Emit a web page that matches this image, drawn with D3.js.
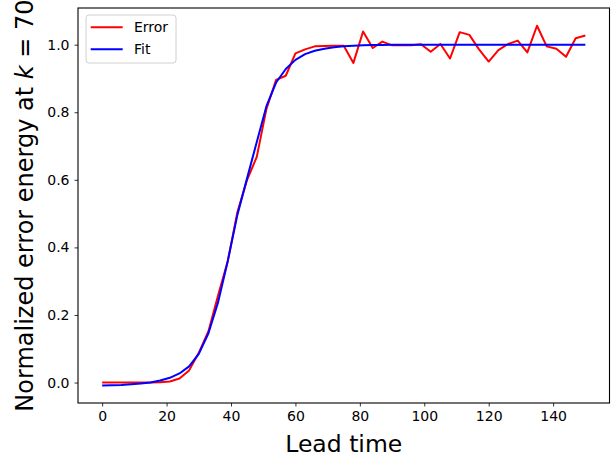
<!DOCTYPE html>
<html lang="en">
<head>
    <meta charset="UTF-8">
    <script src="https://d3js.org/d3.v7.min.js"></script>
    <style>
        body { margin: 0; background: #fff; font-family: "DejaVu Sans", sans-serif; }
        svg { display: block; }
    </style>
</head>
<body>
    <div id="chart"></div>

    <script>
        // Data
        const leadTime = [0, 3, 6, 9, 12, 15, 18, 21, 24, 27, 30, 33, 36, 39, 42, 45, 48, 51, 54, 57,
                          60, 63, 66, 69, 72, 75, 78, 81, 84, 87, 90, 93, 96, 99, 102, 105, 108, 111,
                          114, 117, 120, 123, 126, 129, 132, 135, 138, 141, 144, 147, 150];
        const errorVals = [0.000, 0.000, 0.000, 0.000, 0.000, 0.000, 0.001, 0.003, 0.012, 0.036,
                           0.088, 0.152, 0.258, 0.360, 0.505, 0.600, 0.668, 0.810, 0.896, 0.908,
                           0.974, 0.986, 0.995, 0.996, 0.997, 0.997, 0.946, 1.039, 0.990, 1.009,
                           0.998, 0.999, 0.998, 1.001, 0.979, 1.002, 0.959, 1.037, 1.029, 0.986,
                           0.950, 0.984, 1.002, 1.012, 0.977, 1.056, 0.995, 0.988, 0.964, 1.019, 1.027];
        const fitVals = [-0.009, -0.008, -0.007, -0.005, -0.003, 0.000, 0.006, 0.014, 0.027, 0.048,
                         0.085, 0.146, 0.238, 0.360, 0.497, 0.605, 0.712, 0.818, 0.888, 0.928,
                         0.955, 0.972, 0.982, 0.988, 0.992, 0.995, 0.997, 0.998, 0.999, 0.999,
                         1.000, 1.000, 1.000, 1.000, 1.000, 1.000, 1.000, 1.000, 1.000, 1.000,
                         1.000, 1.000, 1.000, 1.000, 1.000, 1.000, 1.000, 1.000, 1.000, 1.000, 1.000];
        const xTicks = [0, 20, 40, 60, 80, 100, 120, 140];
        const yTicks = [0.0, 0.2, 0.4, 0.6, 0.8, 1.0];
        const seriesNames = ["Error", "Fit"];
        const seriesColors = ["#ff0000", "#0000ff"];

        // Size
        const W = 612, H = 459;
        const margin = {top: 8, right: 2.5, bottom: 56, left: 78};
        const width = W - margin.left - margin.right,
              height = H - margin.top - margin.bottom;

        const svg = d3.select("#chart")
            .append("svg")
            .attr("width", W)
            .attr("height", H);

        const g = svg.append("g")
            .attr("transform", `translate(${margin.left},${margin.top})`);

        // Scales
        const x = d3.scaleLinear().domain([-7.5, 157.5]).range([0, width]);
        const y = d3.scaleLinear().domain([-0.0605, 1.1085]).range([height, 0]);

        // Axes
        const xAxis = g.append("g")
            .attr("transform", `translate(0,${height})`)
            .call(d3.axisBottom(x).tickValues(xTicks).tickSize(3.5).tickPadding(5).tickFormat(d3.format("d")));
        const yAxis = g.append("g")
            .call(d3.axisLeft(y).tickValues(yTicks).tickSize(3.5).tickPadding(5).tickFormat(d3.format(".1f")));

        [xAxis, yAxis].forEach(a => {
            a.select(".domain").remove();
            a.selectAll(".tick line").attr("stroke", "#000").attr("stroke-width", 0.8);
            a.selectAll(".tick text")
                .attr("fill", "#000")
                .style("font-family", "DejaVu Sans")
                .style("font-size", "14px");
        });

        // Lines
        const series = [errorVals, fitVals];
        const line = d3.line()
            .x((d, i) => x(leadTime[i]))
            .y(d => y(d));

        series.forEach((vals, k) => {
            g.append("path")
                .datum(vals)
                .attr("fill", "none")
                .attr("stroke", seriesColors[k])
                .attr("stroke-width", 2)
                .attr("stroke-linejoin", "round")
                .attr("d", line);
        });

        // Frame
        g.append("rect")
            .attr("width", width)
            .attr("height", height)
            .attr("fill", "none")
            .attr("stroke", "#000")
            .attr("stroke-width", 1.1);

        // Legend
        const legend = g.append("g").attr("transform", "translate(8,7)");
        legend.append("rect")
            .attr("width", 90)
            .attr("height", 48)
            .attr("rx", 3)
            .attr("fill", "#fff")
            .attr("fill-opacity", 0.8)
            .attr("stroke", "#d0d0d0")
            .attr("stroke-width", 1);
        seriesNames.forEach((name, k) => {
            const yy = 12.3 + k * 22;
            legend.append("line")
                .attr("x1", 4.7).attr("x2", 36.7)
                .attr("y1", yy).attr("y2", yy)
                .attr("stroke", seriesColors[k])
                .attr("stroke-width", 2);
            legend.append("text")
                .attr("x", 48)
                .attr("y", yy + 5)
                .style("font-size", "14px")
                .text(name);
        });

        // Axis labels
        svg.append("text")
            .attr("x", margin.left + width / 2)
            .attr("y", 452)
            .attr("text-anchor", "middle")
            .style("font-size", "23.5px")
            .text("Lead time");

        const yl = svg.append("text")
            .attr("transform", `translate(33,${margin.top + height / 2}) rotate(-90)`)
            .attr("text-anchor", "middle")
            .style("font-size", "24px");
        yl.append("tspan").text("Normalized error energy at ");
        yl.append("tspan").style("font-style", "italic").text("k");
        yl.append("tspan").text(" = 70");
    </script>
</body>
</html>
